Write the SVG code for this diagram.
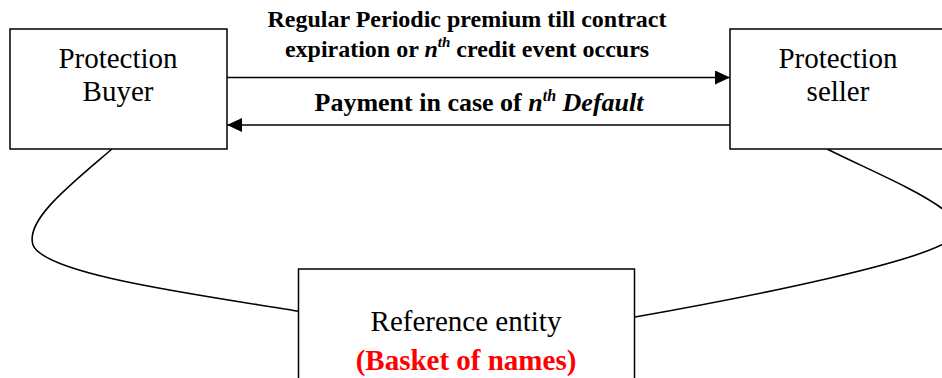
<svg xmlns="http://www.w3.org/2000/svg" width="942" height="378" viewBox="0 0 942 378">
<style>
.box{fill:#fff;stroke:#000;stroke-width:1.5}
.lbl{font-family:"Liberation Serif",serif;font-size:29px;text-anchor:middle;fill:#000}
.edge{font-family:"Liberation Serif",serif;font-weight:bold;text-anchor:middle;fill:#000}
.ln{stroke:#000;stroke-width:1.5;fill:none}
.crv{stroke:#000;stroke-width:1.6;fill:none}
</style>
<defs>
<marker id="ah" viewBox="0 0 15 14" refX="15" refY="7" markerWidth="15" markerHeight="14" markerUnits="userSpaceOnUse" orient="auto">
<path d="M0,0 L15,7 L0,14 Z" fill="#000"/>
</marker>
</defs>
<g id="connectors">
<line class="ln" x1="227" y1="77.5" x2="730" y2="77.5" marker-end="url(#ah)"/>
<line class="ln" x1="730" y1="125" x2="227" y2="125" marker-end="url(#ah)"/>
<path class="crv" d="M112,149 C70,185 25,220 33,245 C45,275 200,295 303,312"/>
<path class="crv" d="M827,149 C900,185 980,215 950,240 C920,262 760,295 635,317"/>
<text class="edge" x="467" y="27" font-size="24">Regular Periodic premium till contract</text>
<text class="edge" x="467" y="57" font-size="24">expiration or <tspan font-style="italic">n</tspan><tspan font-style="italic" font-size="15" dy="-10">th</tspan><tspan dy="10"> credit event occurs</tspan></text>
<text class="edge" x="479" y="111" font-size="26">Payment in case of <tspan font-style="italic">n</tspan><tspan font-style="italic" font-size="16" dy="-10">th</tspan><tspan dy="10" font-style="italic"> Default</tspan></text>
</g>
<g id="buyer">
<rect class="box" x="10" y="29" width="217" height="120"/>
<text class="lbl" x="118" y="68">Protection</text>
<text class="lbl" x="118" y="101">Buyer</text>
</g>
<g id="seller">
<rect class="box" x="730" y="29" width="230" height="120"/>
<text class="lbl" x="838" y="68">Protection</text>
<text class="lbl" x="838" y="101">seller</text>
</g>
<g id="reference">
<rect class="box" x="298.5" y="269" width="336" height="130"/>
<text class="lbl" x="466" y="331">Reference entity</text>
<text class="lbl" x="466" y="370" font-weight="bold" fill="#ff0000" style="fill:#ff0000">(Basket of names)</text>
</g>
</svg>
